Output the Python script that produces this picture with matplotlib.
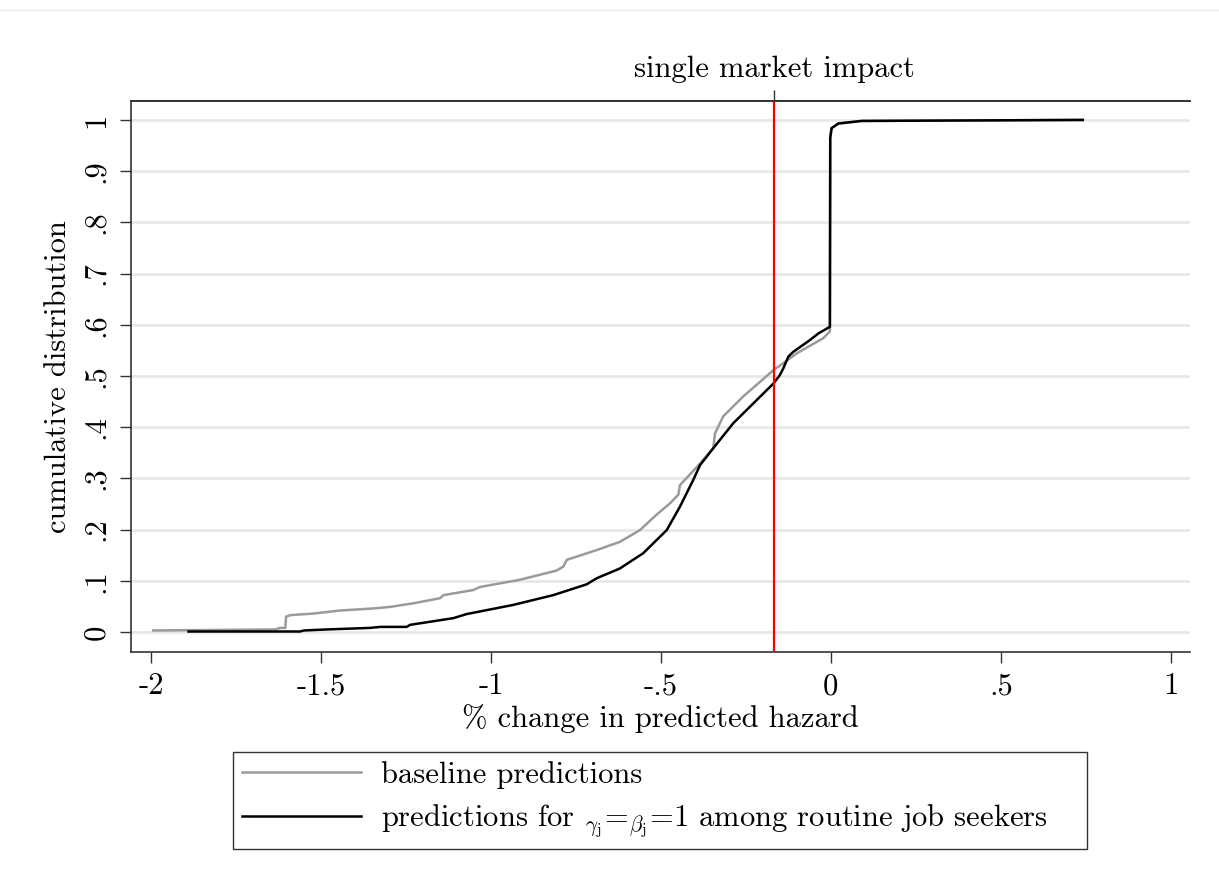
import matplotlib
matplotlib.use('Agg')
import matplotlib.pyplot as plt
from matplotlib.lines import Line2D

plt.rcParams['font.family'] = 'cmr10'
plt.rcParams['mathtext.fontset'] = 'cm'
plt.rcParams['axes.unicode_minus'] = False

# cdf of baseline predictions
base_x = [-1.994, -1.635, -1.62, -1.605, -1.603, -1.59, -1.523, -1.444, -1.346, -1.297,
          -1.229, -1.15, -1.14, -1.052, -1.032, -0.915, -0.807, -0.787, -0.777, -0.689,
          -0.621, -0.562, -0.513, -0.474, -0.449, -0.444, -0.385, -0.346, -0.341, -0.317,
          -0.258, -0.168, -0.140, -0.101, -0.022, -0.003, -0.002, 0.002, 0.022, 0.09, 0.741]
base_y = [0.003, 0.005, 0.008, 0.008, 0.030, 0.033, 0.036, 0.042, 0.046, 0.049,
          0.056, 0.066, 0.072, 0.082, 0.088, 0.102, 0.120, 0.128, 0.141, 0.160,
          0.176, 0.199, 0.229, 0.251, 0.268, 0.287, 0.329, 0.359, 0.388, 0.421,
          0.460, 0.512, 0.525, 0.544, 0.574, 0.587, 0.965, 0.984, 0.993, 0.998, 1.0]

# cdf for gamma_j = beta_j = 1 among routine job seekers
rout_x = [-1.89, -1.562, -1.55, -1.483, -1.356, -1.326, -1.248, -1.238, -1.111, -1.072,
          -0.934, -0.817, -0.719, -0.689, -0.621, -0.552, -0.483, -0.444, -0.405, -0.385,
          -0.366, -0.346, -0.287, -0.238, -0.168, -0.150, -0.140, -0.125, -0.111, -0.062,
          -0.037, -0.003, -0.002, 0.002, 0.022, 0.09, 0.741]
rout_y = [0.001, 0.001, 0.003, 0.005, 0.008, 0.010, 0.010, 0.014, 0.027, 0.035,
          0.053, 0.072, 0.093, 0.105, 0.124, 0.154, 0.199, 0.245, 0.297, 0.326,
          0.342, 0.359, 0.408, 0.440, 0.486, 0.502, 0.515, 0.538, 0.547, 0.570,
          0.583, 0.596, 0.965, 0.984, 0.993, 0.998, 1.0]

single_market = -0.166

x_ticks = [-2, -1.5, -1, -0.5, 0, 0.5, 1]
x_labels = ['-2', '-1.5', '-1', '-.5', '0', '.5', '1']
y_ticks = [0, .1, .2, .3, .4, .5, .6, .7, .8, .9, 1]
y_labels = ['0', '.1', '.2', '.3', '.4', '.5', '.6', '.7', '.8', '.9', '1']

labels = ['baseline predictions',
          r'predictions for ${}_{\gamma_{\mathrm{j}}}$=${}_{\beta_{\mathrm{j}}}$=1 among routine job seekers']

FS = 22
fig = plt.figure(figsize=(12.19, 8.85), dpi=100)
ax = fig.add_axes([0.1075, 0.2633, 0.8686, 0.6226])

for y in y_ticks:
    ax.axhline(y, color='#e8e8e8', lw=2, zorder=0)

l1, = ax.plot(base_x, base_y, color='#9a9a9a', lw=1.8, zorder=2)
l2, = ax.plot(rout_x, rout_y, color='black', lw=1.8, zorder=3)
ax.axvline(single_market, color='#ff0000', lw=1.6, zorder=4)

ax.set_xlim(-2.059, 1.056)
ax.set_ylim(-0.039, 1.037)
ax.set_xticks(x_ticks)
ax.set_xticklabels(x_labels, fontsize=FS)
ax.set_yticks(y_ticks)
ax.set_yticklabels(y_labels, fontsize=FS, rotation=90, va='center')
ax.tick_params(axis='both', length=8, width=1, color='#333333', pad=7)
ax.set_xlabel('% change in predicted hazard', fontsize=FS, labelpad=3)
ax.set_ylabel('cumulative distribution', fontsize=FS, labelpad=8)
ax.spines['right'].set_visible(False)
for s in ['left', 'bottom', 'top']:
    ax.spines[s].set_color('#333333')
    ax.spines[s].set_linewidth(1.2)

# top axis with the single market impact marker
ax2 = ax.twiny()
ax2.set_xlim(ax.get_xlim())
ax2.set_xticks([single_market])
ax2.set_xticklabels(['single market impact'], fontsize=FS)
ax2.tick_params(axis='x', length=8, width=1, color='#333333', pad=5)
for s in ['left', 'bottom', 'right']:
    ax2.spines[s].set_visible(False)
ax2.spines['top'].set_color('#333333')
ax2.spines['top'].set_linewidth(1.2)

leg = fig.legend([l1, l2], labels, loc='center', mode='expand',
                 bbox_to_anchor=(0.191, 0.0395, 0.7006, 0.112),
                 fontsize=FS, handlelength=3.9, handletextpad=0.65,
                 labelspacing=0.45, borderpad=0.3, borderaxespad=0,
                 fancybox=False, framealpha=1)
leg.get_frame().set_edgecolor('#333333')
leg.get_frame().set_linewidth(1.0)

# faint border line at the very top of the screenshot
fig.add_artist(Line2D([0, 1], [0.989, 0.989], color='#eeeeee', lw=1))

fig.savefig('out.png', dpi=100)
